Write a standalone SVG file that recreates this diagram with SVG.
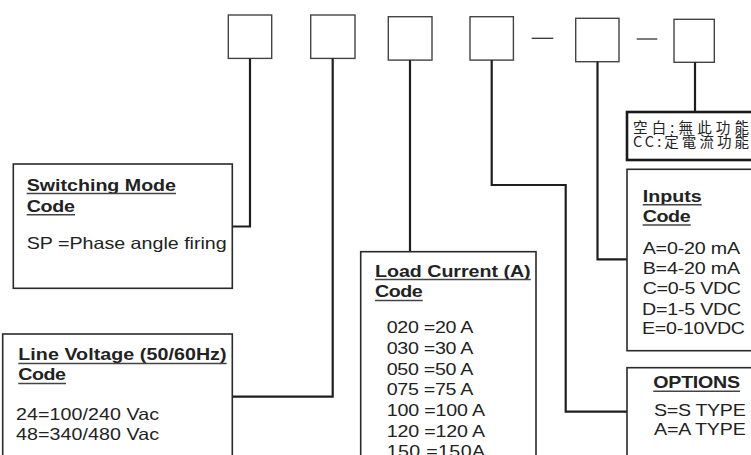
<svg xmlns="http://www.w3.org/2000/svg" width="751" height="455" viewBox="0 0 751 455">
<style>
.bg{fill:#fff}
.slot{fill:#fff;stroke:#444;stroke-width:1.4}
.dash{stroke:#333;stroke-width:1.3}
.box{fill:#fff;stroke:#2a2a2a;stroke-width:1.6}
.cbox{fill:#fff;stroke:#1a1a1a;stroke-width:2.6}
.conn{fill:none;stroke:#1e1e1e;stroke-width:2.2}
.ul{stroke:#444;stroke-width:1.5}
text{font-family:"Liberation Sans",Arial,sans-serif;font-size:16.5px;fill:#222}
.h{font-weight:bold}
.cjk{font-family:"Noto Sans CJK TC","Noto Sans CJK SC",sans-serif;font-size:14.5px}
</style>
<rect class="bg" x="0" y="0" width="751" height="455"/>
<g id="code-slots">
<rect class="slot" x="228.3" y="15" width="43.4" height="43.4"/>
<rect class="slot" x="310.7" y="15" width="44.3" height="43.4"/>
<rect class="slot" x="388.3" y="16.7" width="43.7" height="43.4"/>
<rect class="slot" x="470" y="16.7" width="43.4" height="43.4"/>
<line class="dash" x1="531.7" y1="38.3" x2="553.3" y2="38.3"/>
<rect class="slot" x="575.7" y="18.3" width="43.3" height="43.4"/>
<line class="dash" x1="636.7" y1="39" x2="657.3" y2="39"/>
<rect class="slot" x="674" y="19.3" width="40.3" height="43"/>
</g>
<g id="connectors">
<path class="conn" d="M250 58.4 V226.5 H232.3"/>
<path class="conn" d="M332.7 58.4 V396.7 H232.3"/>
<path class="conn" d="M410 60.1 V251.7"/>
<path class="conn" d="M491.7 60.1 V185 H565.7 V411.7 H627"/>
<path class="conn" d="M597.5 61.7 V259.3 H627"/>
<path class="conn" d="M695 62.3 V112"/>
</g>
<g id="switching-mode">
<rect class="box" x="13.3" y="164" width="219" height="124.3"/>
<text class="h" transform="matrix(1.19 0 0 1 26.7 190.5)" textLength="125.5" lengthAdjust="spacing">Switching Mode</text>
<line class="ul" x1="26.7" y1="193.6" x2="176" y2="193.6"/>
<text class="h" transform="matrix(1.19 0 0 1 26.7 211.7)" textLength="40.6" lengthAdjust="spacing">Code</text>
<line class="ul" x1="26.7" y1="214.8" x2="75" y2="214.8"/>
<text transform="matrix(1.19 0 0 1 26.7 248.5)" textLength="168.1" lengthAdjust="spacing">SP =Phase angle firing</text>
</g>
<g id="line-voltage">
<rect class="box" x="2.7" y="334" width="229.6" height="130"/>
<text class="h" transform="matrix(1.19 0 0 1 18.3 360)" textLength="175" lengthAdjust="spacing">Line Voltage (50/60Hz)</text>
<line class="ul" x1="18.3" y1="363.4" x2="226.7" y2="363.4"/>
<text class="h" transform="matrix(1.19 0 0 1 18.3 380.3)" textLength="40.1" lengthAdjust="spacing">Code</text>
<line class="ul" x1="18.3" y1="383.5" x2="66" y2="383.5"/>
<text transform="matrix(1.19 0 0 1 16 420)" textLength="120.2" lengthAdjust="spacing">24=100/240 Vac</text>
<text transform="matrix(1.19 0 0 1 16 439.5)" textLength="120.2" lengthAdjust="spacing">48=340/480 Vac</text>
</g>
<g id="load-current">
<rect class="box" x="360.7" y="251.7" width="175.3" height="215"/>
<text class="h" transform="matrix(1.19 0 0 1 375 276.7)" textLength="130.8" lengthAdjust="spacing">Load Current (A)</text>
<line class="ul" x1="375" y1="279.6" x2="530.7" y2="279.6"/>
<text class="h" transform="matrix(1.19 0 0 1 375 297.3)" textLength="40.1" lengthAdjust="spacing">Code</text>
<line class="ul" x1="375" y1="300.5" x2="422.7" y2="300.5"/>
<text transform="matrix(1.19 0 0 1 386.7 333)" textLength="72.8" lengthAdjust="spacing">020 =20 A</text>
<text transform="matrix(1.19 0 0 1 386.7 353.8)" textLength="72.8" lengthAdjust="spacing">030 =30 A</text>
<text transform="matrix(1.19 0 0 1 386.7 374.5)" textLength="72.8" lengthAdjust="spacing">050 =50 A</text>
<text transform="matrix(1.19 0 0 1 386.7 395.2)" textLength="72.8" lengthAdjust="spacing">075 =75 A</text>
<text transform="matrix(1.19 0 0 1 386.7 416)" textLength="82.6" lengthAdjust="spacing">100 =100 A</text>
<text transform="matrix(1.19 0 0 1 386.7 436.7)" textLength="82.6" lengthAdjust="spacing">120 =120 A</text>
<text transform="matrix(1.19 0 0 1 386.7 457.4)" textLength="82.6" lengthAdjust="spacing">150 =150A</text>
</g>
<g id="special-function">
<rect class="cbox" x="627" y="112" width="140" height="48"/>
<text class="cjk" x="633" y="133" textLength="116" lengthAdjust="spacing">空白:無此功能</text>
<text class="cjk" x="633" y="147" textLength="116" lengthAdjust="spacing">CC:定電流功能</text>
</g>
<g id="inputs">
<rect class="box" x="627" y="169.3" width="140" height="181.4"/>
<text class="h" transform="matrix(1.19 0 0 1 642.7 201.7)" textLength="49.6" lengthAdjust="spacing">Inputs</text>
<line class="ul" x1="642.7" y1="204.8" x2="701.7" y2="204.8"/>
<text class="h" transform="matrix(1.19 0 0 1 642.7 221.9)" textLength="40.3" lengthAdjust="spacing">Code</text>
<line class="ul" x1="642.7" y1="225" x2="690.7" y2="225"/>
<text transform="matrix(1.19 0 0 1 642.7 254)" textLength="81.8" lengthAdjust="spacing">A=0-20 mA</text>
<text transform="matrix(1.19 0 0 1 642.7 274)" textLength="81.8" lengthAdjust="spacing">B=4-20 mA</text>
<text transform="matrix(1.19 0 0 1 642.7 294)" textLength="82.6" lengthAdjust="spacing">C=0-5 VDC</text>
<text transform="matrix(1.19 0 0 1 642 314.5)" textLength="83.4" lengthAdjust="spacing">D=1-5 VDC</text>
<text transform="matrix(1.19 0 0 1 642 334)" textLength="86.6" lengthAdjust="spacing">E=0-10VDC</text>
</g>
<g id="options">
<rect class="box" x="627" y="367.7" width="140" height="100"/>
<text class="h" transform="matrix(1.19 0 0 1 653.3 388.3)" textLength="72.9" lengthAdjust="spacing">OPTIONS</text>
<line class="ul" x1="653.3" y1="391.3" x2="740" y2="391.3"/>
<text transform="matrix(1.19 0 0 1 654 416)" textLength="77.1" lengthAdjust="spacing">S=S TYPE</text>
<text transform="matrix(1.19 0 0 1 654 435)" textLength="77.1" lengthAdjust="spacing">A=A TYPE</text>
</g>
</svg>
